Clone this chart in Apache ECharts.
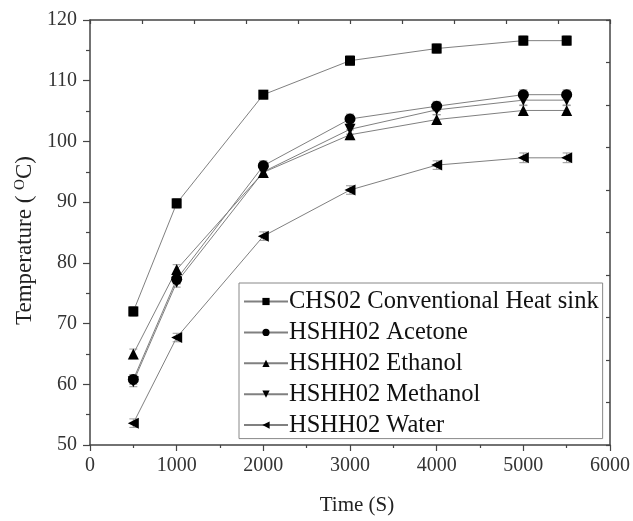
<!DOCTYPE html>
<html>
<head>
<meta charset="utf-8">
<script src="https://cdn.jsdelivr.net/npm/echarts@6/dist/echarts.min.js"></script>
<style>
  html, body { margin: 0; padding: 0; background: #fff; }
  #chart { width: 633px; height: 521px; }
</style>
</head>
<body>
<div id="chart"></div>
<script>
// 时间点 (s)
const times = [500, 1000, 2000, 3000, 4000, 5000, 5500];
const seriesNames = [
  'CHS02 Conventional Heat sink',
  'HSHH02 Acetone',
  'HSHH02 Ethanol',
  'HSHH02 Methanol',
  'HSHH02 Water'
];
const chs02 = [72.0, 89.8, 107.7, 113.3, 115.3, 116.6, 116.6];
const acetone = [60.8, 77.3, 96.0, 103.7, 105.8, 107.7, 107.7];
const ethanol = [65.0, 78.9, 94.9, 101.1, 103.6, 105.1, 105.1];
const methanol = [60.4, 76.8, 95.0, 102.0, 105.2, 106.8, 106.8];
const water = [53.6, 67.7, 84.4, 92.0, 96.1, 97.3, 97.3];
// 误差 (±)
const errChs02 = [0.8, 0.8, 0.7, 0.8, 0.8, 0.8, 0.8];
const errAcetone = [0.8, 0.8, 0.8, 0.8, 0.8, 0.8, 0.8];
const errEthanol = [0.8, 0.8, 0.8, 0.8, 0.8, 0.8, 0.8];
const errMethanol = [0.8, 0.8, 0.8, 0.8, 0.8, 0.8, 0.8];
const errWater = [0.7, 0.7, 0.7, 0.7, 0.7, 0.8, 0.8];

const values = [chs02, acetone, ethanol, methanol, water];
const errors = [errChs02, errAcetone, errEthanol, errMethanol, errWater];
const symbols = ['rect', 'circle', 'triangle', 'triangle', 'triangle'];
const rotates = [0, 0, 0, 180, 90];
const sizes = [10, 11, 11, 11, 11];

const font = '"Liberation Serif", "Times New Roman", serif';

let chart = echarts.init(document.getElementById('chart'));

let series = [];
values.forEach((vals, i) => {
  // 误差棒
  series.push({
    type: 'custom',
    name: seriesNames[i] + ' err',
    xAxisIndex: 0,
    yAxisIndex: 0,
    z: 1,
    data: times.map((t, k) => [t, vals[k] - errors[i][k], vals[k] + errors[i][k]]),
    renderItem: function (params, api) {
      let lo = api.coord([api.value(0), api.value(1)]);
      let hi = api.coord([api.value(0), api.value(2)]);
      let w = 4;
      let style = { stroke: '#999', lineWidth: 1 };
      return {
        type: 'group',
        children: [
          { type: 'line', shape: { x1: lo[0], y1: lo[1], x2: hi[0], y2: hi[1] }, style: style },
          { type: 'line', shape: { x1: lo[0] - w, y1: lo[1], x2: lo[0] + w, y2: lo[1] }, style: style },
          { type: 'line', shape: { x1: hi[0] - w, y1: hi[1], x2: hi[0] + w, y2: hi[1] }, style: style }
        ]
      };
    },
    silent: true
  });
  series.push({
    type: 'line',
    name: seriesNames[i],
    xAxisIndex: 0,
    yAxisIndex: 0,
    z: 3,
    data: times.map((t, k) => [t, vals[k]]),
    symbol: symbols[i],
    symbolSize: sizes[i],
    symbolRotate: rotates[i],
    showAllSymbol: true,
    lineStyle: { color: '#808080', width: 1 },
    itemStyle: { color: '#000' }
  });
});

let option = {
  animation: false,
  backgroundColor: '#fff',
  grid: { left: 90, right: 21, top: 20, bottom: 75 },
  legend: {
    data: seriesNames,
    orient: 'vertical',
    left: 239,
    top: 283,
    padding: [6, 4, 1, 4],
    itemGap: 5.9,
    itemWidth: 44,
    itemHeight: 9,
    borderColor: '#888',
    borderWidth: 1,
    textStyle: { fontFamily: font, fontSize: 24.5, color: '#111', padding: [0, 0, 0, -4], lineHeight: 22 }
  },
  xAxis: [
    {
      type: 'value',
      min: 0, max: 6000, interval: 1000,
      name: 'Time (S)',
      nameLocation: 'middle',
      nameGap: 50,
      nameTextStyle: { fontFamily: font, fontSize: 21, color: '#222', padding: [0, 0, 0, 14] },
      axisLine: { lineStyle: { color: '#444', width: 1.5 } },
      axisTick: { inside: false, length: 6, lineStyle: { color: '#444', width: 1.2 } },
      minorTick: { show: true, splitNumber: 2, length: 3, lineStyle: { color: '#444', width: 1.2 } },
      axisLabel: { fontFamily: font, fontSize: 20, color: '#333', margin: 11, formatter: v => String(v) },
      splitLine: { show: false }
    },
    {
      type: 'value',
      position: 'top',
      min: 0, max: 10, interval: 1,
      axisLine: { show: true, onZero: false, lineStyle: { color: '#444', width: 1.5 } },
      axisTick: { inside: true, length: 4, lineStyle: { color: '#444', width: 1.2 } },
      axisLabel: { show: false },
      splitLine: { show: false }
    }
  ],
  yAxis: [
    {
      type: 'value',
      min: 50, max: 120, interval: 10,
      name: '{a|Temperature ( }{s|O}{a|C)}',
      nameLocation: 'middle',
      nameGap: 49,
      nameTextStyle: {
        padding: [0, 16, 0, 0],
        rich: {
          a: { fontFamily: font, fontSize: 23, color: '#222' },
          s: { fontFamily: font, fontSize: 15, color: '#222', verticalAlign: 'top', padding: [0, 0, 10, 0] }
        }
      },
      axisLine: { show: true, lineStyle: { color: '#444', width: 1.5 } },
      axisTick: { inside: false, length: 7, lineStyle: { color: '#444', width: 1.2 } },
      minorTick: { show: true, splitNumber: 2, length: 4, lineStyle: { color: '#444', width: 1.2 } },
      axisLabel: { fontFamily: font, fontSize: 20, color: '#333', margin: 13 },
      splitLine: { show: false }
    },
    {
      type: 'value',
      position: 'right',
      min: 0, max: 10, interval: 1,
      axisLine: { show: true, onZero: false, lineStyle: { color: '#444', width: 1.5 } },
      axisTick: { inside: true, length: 4, lineStyle: { color: '#444', width: 1.2 } },
      axisLabel: { show: false },
      splitLine: { show: false }
    }
  ],
  series: series
};
chart.setOption(option);
</script>
</body>
</html>
